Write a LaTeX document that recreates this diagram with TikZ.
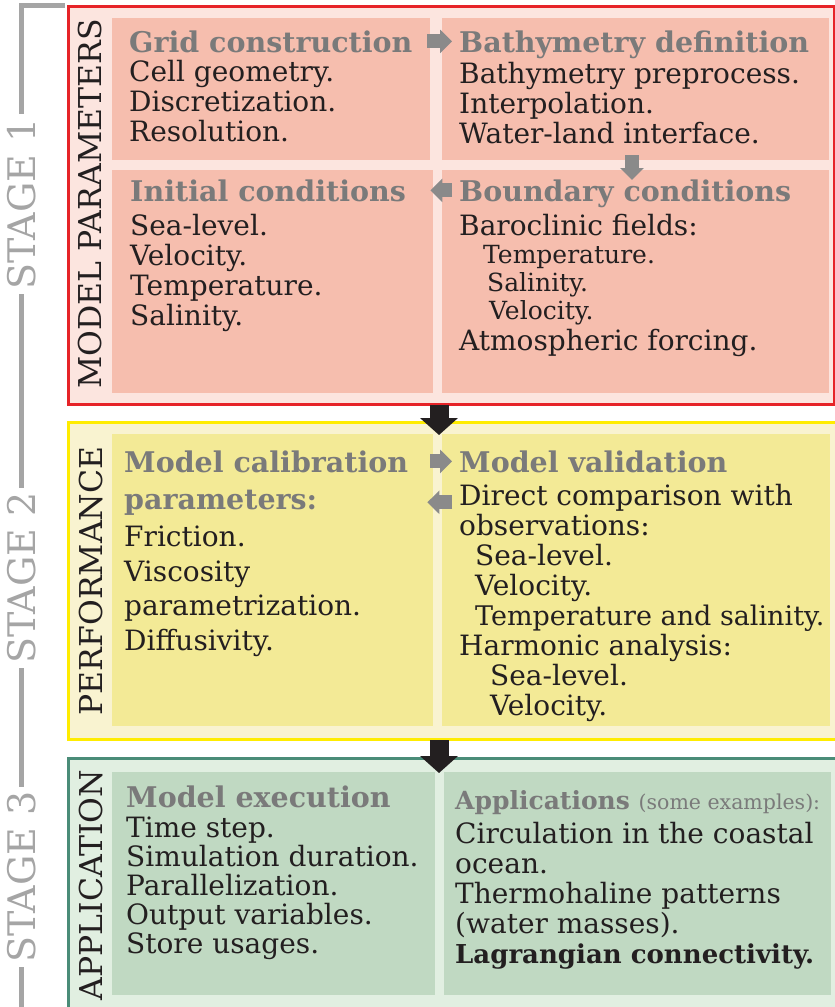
\documentclass[tikz,border=0pt]{standalone}
\usepackage{fontspec}
\setmainfont{DejaVu Serif}
\usetikzlibrary{arrows.meta}

\definecolor{redline}{RGB}{230,35,40}
\definecolor{redfill}{RGB}{252,229,223}
\definecolor{redcell}{RGB}{246,190,174}
\definecolor{yelline}{RGB}{255,236,0}
\definecolor{yelfill}{RGB}{249,243,208}
\definecolor{yelcell}{RGB}{243,234,150}
\definecolor{grnline}{RGB}{74,140,120}
\definecolor{grnfill}{RGB}{225,239,225}
\definecolor{grncell}{RGB}{192,217,194}
\definecolor{stagegray}{RGB}{165,165,165}
\definecolor{titlegray}{RGB}{122,122,122}
\definecolor{arrowgray}{RGB}{138,138,138}
\definecolor{ink}{RGB}{35,31,32}

\begin{document}
\begin{tikzpicture}[
        x=1pt, y=-1pt,
        stagebox/.style={
            rectangle,
            line width=3pt,
            inner sep=0pt,
            anchor=north west
        },
        cell/.style={
            rectangle,
            inner sep=0pt,
            anchor=north west
        },
        ttl/.style={
            anchor=base west,
            inner sep=0pt,
            text=titlegray,
            font=\fontsize{28.5}{30}\selectfont\bfseries
        },
        txt/.style={
            anchor=north west,
            align=left,
            inner sep=0pt,
            text=ink,
            font=\fontsize{28}{30}\selectfont
        },
        sidelabel/.style={
            rotate=90,
            inner sep=0pt,
            text=ink,
            font=\fontsize{31.5}{32}\selectfont
        },
        stagelabel/.style={
            rotate=90,
            fill=white,
            inner sep=4pt,
            text=stagegray,
            font=\fontsize{38}{38}\selectfont
        },
        garrow/.style={
            draw=arrowgray,
            line width=14pt,
            -{Triangle[length=12pt,width=23pt]}
        },
        barrow/.style={
            draw=ink,
            line width=19pt,
            -{Triangle[length=17pt,width=37pt]}
        }
    ]

    \useasboundingbox (0,0) rectangle (835,1007);
    \clip (0,0) rectangle (835,1007);

    % stage bracket
    \draw[stagegray, line width=5pt] (65,5) -- (21,5) -- (21,1010);
    \node[stagelabel] (st1) at (22,204) {STAGE 1};
    \node[stagelabel] (st2) at (22,578) {STAGE 2};
    \node[stagelabel] (st3) at (22,877) {STAGE 3};

    % stage frames
    \node[stagebox, draw=redline, fill=redfill, minimum width=766pt, minimum height=398pt] (s1) at (67,5) {};
    \node[stagebox, draw=yelline, fill=yelfill, minimum width=768pt, minimum height=317pt] (s2) at (67,421) {};
    \node[stagebox, draw=grnline, fill=grnfill, minimum width=768pt, minimum height=260pt] (s3) at (67,757) {};

    \node[sidelabel] (lab1) at (90,204) {MODEL PARAMETERS};
    \node[sidelabel] (lab2) at (91,581) {PERFORMANCE};
    \node[sidelabel] (lab3) at (91,885) {APPLICATION};

    % stage 1 cells
    \node[cell, fill=redcell, minimum width=318pt, minimum height=142pt] (grid)  at (112,18)  {};
    \node[cell, fill=redcell, minimum width=387pt, minimum height=142pt] (bathy) at (442,18)  {};
    \node[cell, fill=redcell, minimum width=321pt, minimum height=223pt] (init)  at (112,170) {};
    \node[cell, fill=redcell, minimum width=387pt, minimum height=223pt] (bound) at (442,170) {};

    \node[ttl] (gridT)  at (129,52)  {Grid construction};
    \node[txt] (gridB)  at (129,60)  {Cell geometry.\\Discretization.\\Resolution.};
    \node[ttl] (bathyT) at (459,52)  {Bathymetry definition};
    \node[txt] (bathyB) at (459,62)  {Bathymetry preprocess.\\Interpolation.\\Water-land interface.};
    \node[ttl] (initT)  at (130,201) {Initial conditions};
    \node[txt] (initB)  at (130,214) {Sea-level.\\Velocity.\\Temperature.\\Salinity.};
    \node[ttl] (boundT) at (459,201) {Boundary conditions};
    \node[txt] (boundB) at (459,214) {Baroclinic fields:};
    \node[txt, font=\fontsize{25}{28}\selectfont] (boundS) at (483,245)
        {Temperature.\\\hspace*{4pt}Salinity.\\\hspace*{6pt}Velocity.};
    \node[txt] (boundA) at (459,329) {Atmospheric forcing.};

    % stage 2 cells
    \node[cell, fill=yelcell, minimum width=321pt, minimum height=292pt] (calib) at (112,434) {};
    \node[cell, fill=yelcell, minimum width=388pt, minimum height=292pt] (valid) at (442,434) {};

    \node[ttl] (calibT) at (124,472) {Model calibration};
    \node[ttl] (calibP) at (124,509) {parameters:};
    \node[txt, font=\fontsize{28}{34.5}\selectfont] (calibB) at (124,526)
        {Friction.\\Viscosity\\parametrization.\\Diffusivity.};
    \node[ttl] (validT) at (459,472) {Model validation};
    \node[txt] (validB) at (459,484)
        {Direct comparison with\\observations:\\
         \hspace*{16pt}Sea-level.\\\hspace*{16pt}Velocity.\\
         \hspace*{16pt}{\fontsize{27}{30}\selectfont Temperature and salinity.}\\
         Harmonic analysis:\\
         \hspace*{31pt}Sea-level.\\\hspace*{31pt}Velocity.};

    % stage 3 cells
    \node[cell, fill=grncell, minimum width=323pt, minimum height=223pt] (exec) at (112,772) {};
    \node[cell, fill=grncell, minimum width=387pt, minimum height=223pt] (appl) at (444,772) {};

    \node[ttl] (execT) at (126,807) {Model execution};
    \node[txt, font=\fontsize{28}{29}\selectfont] (execB) at (126,817)
        {Time step.\\Simulation duration.\\Parallelization.\\Output variables.\\Store usages.};
    \node[ttl, font=\fontsize{25}{30}\selectfont\bfseries] (applT) at (455,809)
        {Applications {\mdseries\fontsize{20.5}{22}\selectfont (some examples):}};
    \node[txt] (applB) at (455,822)
        {Circulation in the coastal\\ocean.\\Thermohaline patterns\\(water masses).\\
         {\fontsize{26}{30}\selectfont\bfseries Lagrangian connectivity.}};

    % flow between cells
    \coordinate (gap) at (439,0);
    \coordinate (wl) at (632,0);
    \draw[garrow, shorten <=-3pt, shorten >=-10pt] (grid.east |- gridT) -- (bathy.west |- gridT);
    \draw[garrow, shorten <=-5pt, shorten >=-10pt] (bathy.south -| wl) -- (bound.north -| wl);
    \draw[garrow, shorten <=-10pt, shorten >=-3pt] (bound.west |- initT) -- (init.east |- initT);
    \draw[garrow, shorten <=-3pt, shorten >=-10pt] (calib.east |- calibT) -- (valid.west |- calibT);
    \draw[garrow, shorten <=-10pt, shorten >=-6pt] (valid.west |- calibP) -- (calib.east |- calibP);

    % flow between stages
    \draw[barrow, shorten <=-1pt, shorten >=-1pt] (s1.south -| gap) -- (calib.north -| gap);
    \draw[barrow, shorten <=-1pt, shorten >=-1pt] (s2.south -| gap) -- (exec.north -| gap);

\end{tikzpicture}
\end{document}
